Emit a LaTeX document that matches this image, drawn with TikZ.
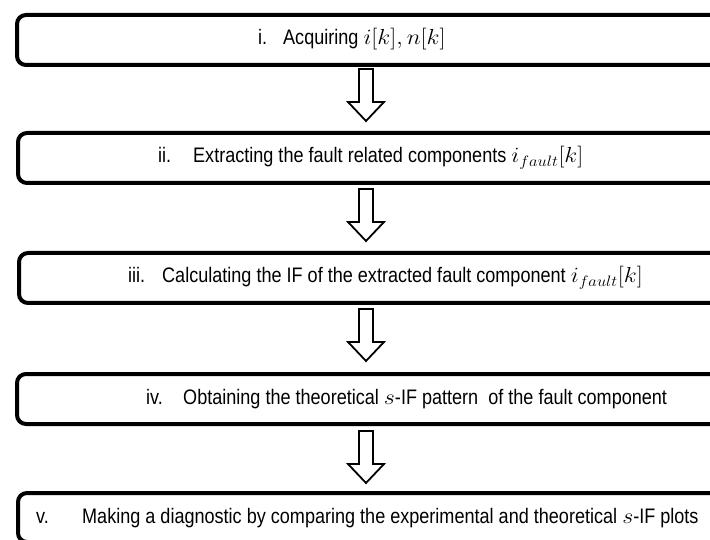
\documentclass[tikz,border=0pt]{standalone}
\usepackage{graphicx}
\usepackage{fontspec}
\setmainfont{Liberation Sans}[FakeStretch=0.86]
\newcommand\mth[1]{\scalebox{1.15}[1.05]{$#1$}}
\begin{document}
\begin{tikzpicture}[x=1pt,y=-1pt,
  boxst/.style={draw=black, line width=4pt, rounded corners=9pt, anchor=north west, minimum width=720pt, minimum height=50pt, inner sep=0pt},
  arrowst/.style={draw=black, line width=1.8pt, fill=white, line join=miter},
  txtst/.style={inner sep=0pt, anchor=base west, font=\fontsize{21}{25}\selectfont}]
\useasboundingbox (0,0) rectangle (710,540);
\clip (0,0) rectangle (710,540);
\newcommand\blockarrow[1]{\draw[arrowst] ([xshift=-7pt]#1) -- ++(0,-33pt) -- ++(-11pt,0) -- ++(18pt,-19pt) -- ++(18pt,19pt) -- ++(-11pt,0) -- ++(0,33pt) -- cycle;}
% boxes
\node[boxst] (b1) at (15,13) {};
\node[boxst] (b2) at (16,131) {};
\node[boxst] (b3) at (17,251) {};
\node[boxst] (b4) at (15,372) {};
\node[boxst, minimum height=49pt] (b5) at (16,491) {};
% texts
\node[txtst] (n1) at (258,45) {i.};
\node[txtst] (t1) at (283,45) {Acquiring \mth{i[k], n[k]}};
\node[txtst] (n2) at (158,163) {ii.};
\node[txtst] (t2) at (193,163) {Extracting the fault related components \mth{i_{fault}[k]}};
\node[txtst] (n3) at (128,283) {iii.};
\node[txtst] (t3) at (162,283) {Calculating the IF of the extracted fault component \mth{i_{fault}[k]}};
\node[txtst] (n4) at (146,404) {iv.};
\node[txtst] (t4) at (183,404) {Obtaining the theoretical \mth{s}-IF pattern\ \ of the fault component};
\node[txtst] (n5) at (36,523) {v.};
\node[txtst] (t5) at (82,523) {Making a diagnostic by comparing the experimental and theoretical \mth{s}-IF plots};
% arrows
\coordinate (a1) at (366,69);
\coordinate (a2) at (366,189);
\coordinate (a3) at (366,309);
\coordinate (a4) at (366,431);
\blockarrow{a1}
\blockarrow{a2}
\blockarrow{a3}
\blockarrow{a4}
\end{tikzpicture}
\end{document}
